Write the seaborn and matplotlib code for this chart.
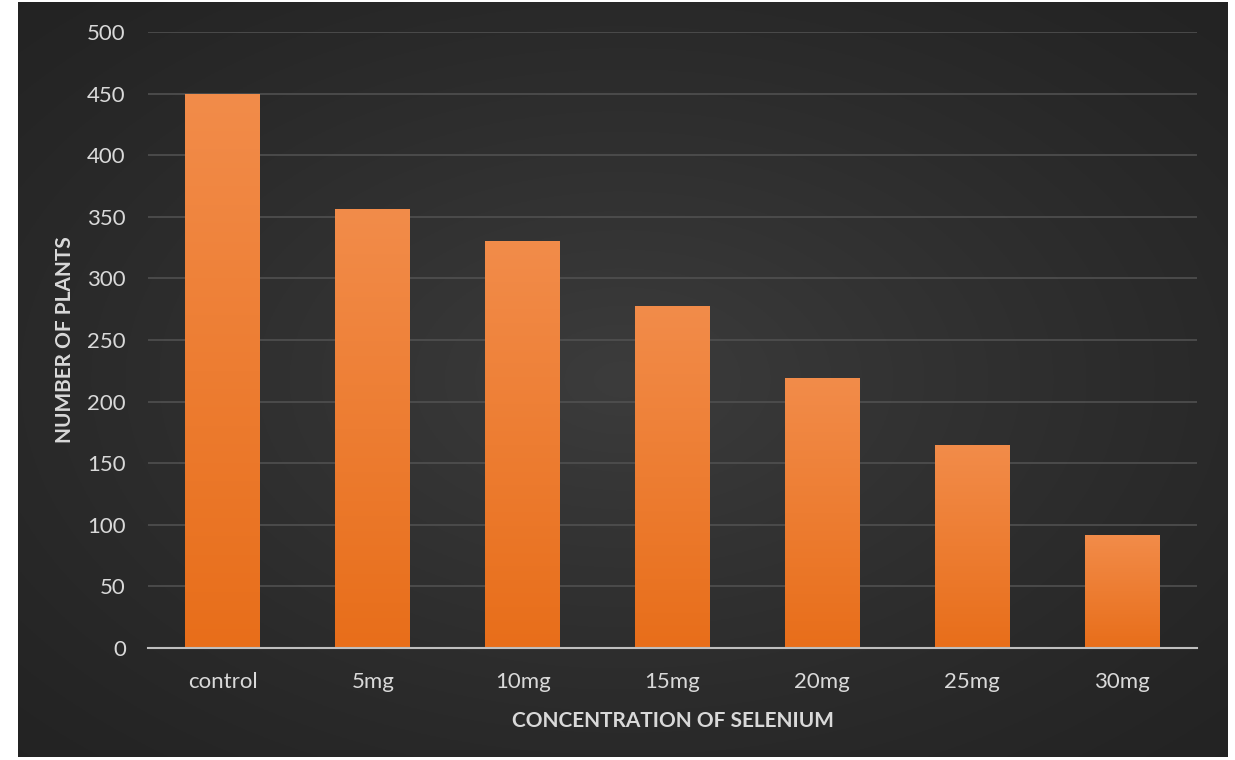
import numpy as np
import pandas as pd
import matplotlib
matplotlib.use("Agg")
import matplotlib.pyplot as plt
import seaborn as sns

categories = ["control", "5mg", "10mg", "15mg", "20mg", "25mg", "30mg"]
plants = [450, 356, 330, 278, 219, 165, 92]
y_ticks = [0, 50, 100, 150, 200, 250, 300, 350, 400, 450, 500]

df = pd.DataFrame({"concentration": categories, "plants": plants})

sns.set_theme(style="white")
plt.rcParams["font.family"] = ["Lato", "DejaVu Sans"]

W, H = 1235, 760
fig = plt.figure(figsize=(W / 100, H / 100), dpi=100)
fig.patch.set_facecolor("white")

# dark panel with a soft radial glow
bg = fig.add_axes([18 / W, 3 / H, (1228 - 18) / W, (758 - 3) / H])
bg.set_axis_off()
yy, xx = np.mgrid[0:1:400j, 0:1:640j]
r = np.sqrt(((xx - 0.5) / 0.75) ** 2 + ((yy - 0.5) / 0.75) ** 2)
shade = np.clip(1 - r, 0, 1)
c_edge = np.array([0x22, 0x22, 0x22]) / 255
c_mid = np.array([0x3c, 0x3c, 0x3c]) / 255
img = c_edge + (c_mid - c_edge) * shade[..., None] ** 1.2
bg.imshow(img, extent=[0, 1, 0, 1], aspect="auto")
bg.set_xlim(0, 1)
bg.set_ylim(0, 1)

ax = fig.add_axes([148 / W, (H - 648) / H, (1197 - 148) / W, (648 - 32) / H])
ax.patch.set_alpha(0)

sns.barplot(data=df, x="concentration", y="plants", ax=ax, color="#ED7D31",
            width=0.5, saturation=1, zorder=3, edgecolor="none", linewidth=0)

ax.set_ylim(0, 500)
ax.set_xlim(-0.5, len(categories) - 0.5)
ax.set_yticks(y_ticks)
ax.set_yticklabels([str(t) for t in y_ticks])

# vertical gradient fill on each bar
grad = np.linspace(0, 1, 256)[:, None]
top_c = np.array([0xF2, 0x8C, 0x4A]) / 255
bot_c = np.array([0xE8, 0x6E, 0x1A]) / 255
gimg = bot_c + (top_c - bot_c) * grad[..., None]
gimg = np.repeat(gimg, 2, axis=1)
for p in ax.patches:
    x0, w, h = p.get_x(), p.get_width(), p.get_height()
    im = ax.imshow(gimg, extent=[x0, x0 + w, 0, h], origin="lower",
                   aspect="auto", zorder=3.5)
    im.set_clip_path(p)
ax.set_xlim(-0.5, len(categories) - 0.5)
ax.set_ylim(0, 500)
ax.set_aspect("auto")

ax.grid(axis="y", color="#505050", linewidth=1.2, zorder=0)
ax.grid(axis="x", visible=False)
for s in ["top", "right", "left"]:
    ax.spines[s].set_visible(False)
ax.spines["bottom"].set_color("#bfbfbf")
ax.spines["bottom"].set_linewidth(1.5)
ax.spines["bottom"].set_zorder(5)

ax.tick_params(axis="both", length=0, colors="#d9d9d9", labelsize=16)
ax.tick_params(axis="y", pad=16)
ax.tick_params(axis="x", pad=17)

ax.set_xlabel("CONCENTRATION OF SELENIUM", color="#d9d9d9", fontsize=15,
              fontweight="bold", labelpad=14)
ax.set_ylabel("NUMBER OF PLANTS", color="#d9d9d9", fontsize=15,
              fontweight="bold", labelpad=9)

fig.savefig("out.png", dpi=100, facecolor="white")
